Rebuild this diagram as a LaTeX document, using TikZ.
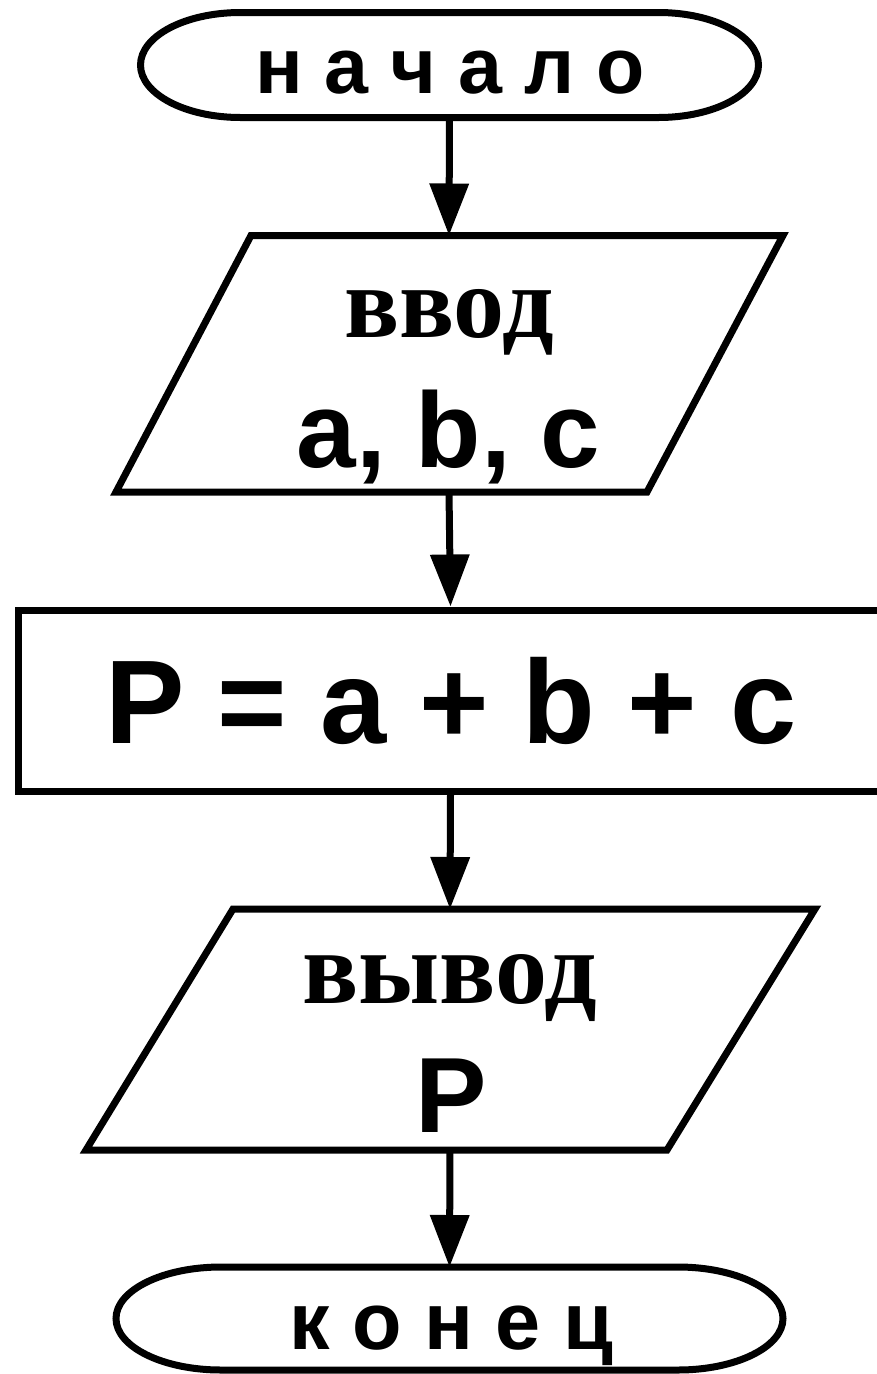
\documentclass[tikz,border=0pt]{standalone}
\usepackage{fontspec}
\setmainfont{Liberation Sans}
\newfontfamily\timesf{Liberation Serif}
\usetikzlibrary{arrows.meta}
\tikzset{
  frame/.style={draw=none, inner sep=0pt, outer sep=0pt},
  outline/.style={draw=black, line width=7pt, line join=miter},
  arr/.style={line width=7pt, -{Triangle[length=52pt,width=38pt]}},
  txt/.style={anchor=base, inner sep=0pt, text=black},
}
\newcommand{\fsz}[1]{\fontsize{#1}{#1}\selectfont\bfseries}
\begin{document}
\begin{tikzpicture}[x=1pt,y=-1pt]
\useasboundingbox (0,0) rectangle (876,1374);
\fill[white] (0,0) rectangle (876,1374);

% start terminator
\node[frame, minimum width=618pt, minimum height=105pt] (start) at (449.5,65) {};
\draw[outline] (240.5,12.5) -- (658.5,12.5)
  arc[start angle=-90,end angle=90,x radius=100,y radius=52.5]
  -- (240.5,117.5)
  arc[start angle=90,end angle=270,x radius=100,y radius=52.5] -- cycle;
\node[txt, font=\fsz{79}] (t1) at (450,93) {н а ч а л о};

% input
\node[frame, minimum width=400pt, minimum height=256.5pt] (in) at (449,363.75) {};
\draw[outline] (251,235.5) -- (783,235.5) -- (647,492) -- (116,492) -- cycle;
\node[txt, font=\timesf\fsz{102}] (t2) at (449,337) {ввод};
\node[txt, font=\fsz{107}] (t3) at (448.5,467) {a, b, c};

% process
\node[outline, inner sep=0pt, minimum width=864pt, minimum height=181pt] (proc) at (450.5,700.5) {};
\node[txt, font=\fsz{119}] (t4) at (451,743) {P = a + b + c};

% output
\node[frame, minimum width=400pt, minimum height=241pt] (out) at (450,1029.5) {};
\draw[outline] (233,909) -- (815,909) -- (667,1150) -- (86,1150) -- cycle;
\node[txt, font=\timesf\fsz{104}] (t5) at (449.5,1003) {вывод};
\node[txt, font=\fsz{107}] (t6) at (451,1132) {P};

% end terminator
\node[frame, minimum width=667pt, minimum height=103pt] (end) at (449.5,1318.5) {};
\draw[outline] (221,1267) -- (678,1267)
  arc[start angle=-90,end angle=90,x radius=105,y radius=51.5]
  -- (221,1370)
  arc[start angle=90,end angle=270,x radius=105,y radius=51.5] -- cycle;
\node[txt, font=\fsz{81}] (t7) at (451,1349) {к о н е ц};

% connectors
\draw[arr] (start.south) -- (in.north);
\draw[arr] (in.south) -- (proc.north);
\draw[arr] (proc.south) -- (out.north);
\draw[arr] (out.south) -- (end.north);
\end{tikzpicture}
\end{document}
